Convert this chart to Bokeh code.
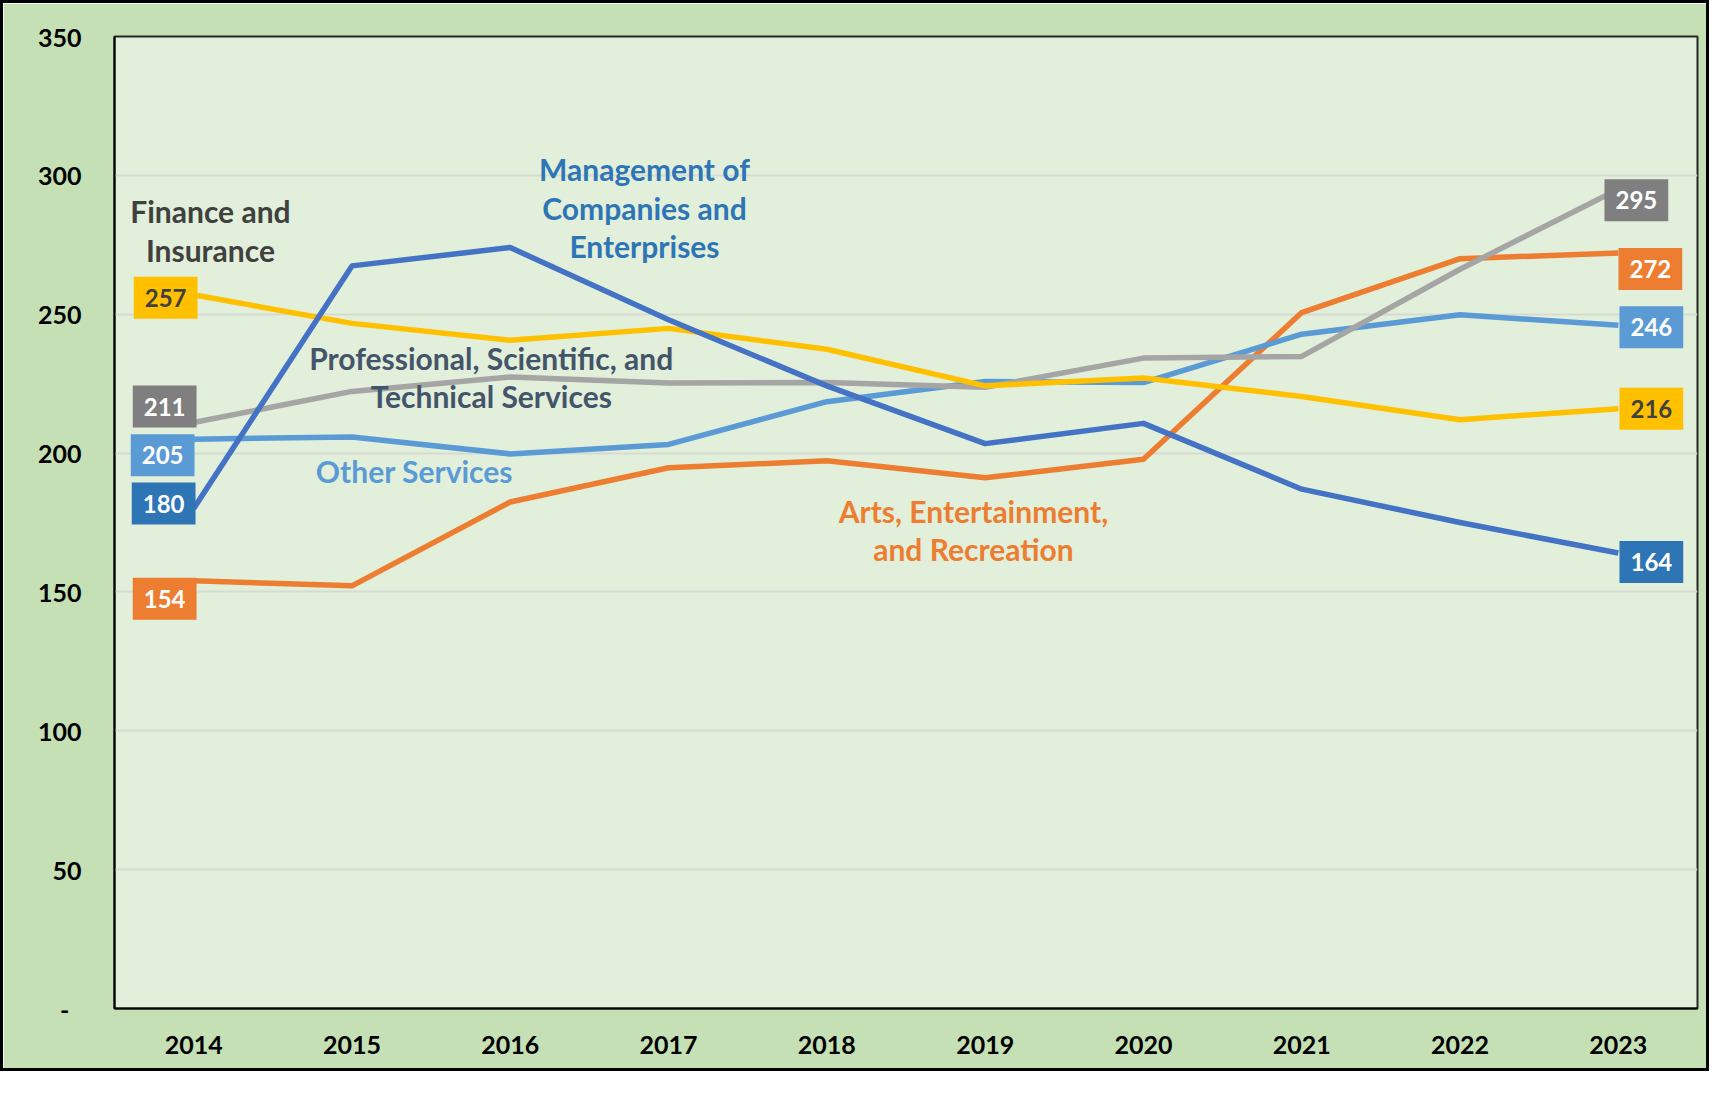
from bokeh.plotting import figure
from bokeh.models import FactorRange, Range1d, FixedTicker, Label
from bokeh.embed import file_html
from bokeh.resources import INLINE

years = ["2014", "2015", "2016", "2017", "2018", "2019", "2020", "2021", "2022", "2023"]
arts = [154, 152.2, 182.4, 194.7, 197.2, 191.1, 197.8, 250.6, 270.0, 272]
finance = [257, 246.7, 240.6, 244.9, 237.4, 224.2, 227.0, 220.4, 212.0, 216]
management = [180, 267.4, 274.0, 248.0, 224.2, 203.4, 210.7, 187.0, 175.0, 164]
other = [205, 205.8, 199.7, 203.1, 218.5, 225.8, 225.4, 242.8, 249.8, 246]
professional = [211, 222.2, 227.4, 225.2, 225.4, 223.7, 234.2, 234.8, 266.2, 295]
y_ticks = [0, 50, 100, 150, 200, 250, 300, 350]

FONT = "Lato"

p = figure(x_range=FactorRange(*years), y_range=Range1d(0, 350),
           width=1709, height=1071, output_backend="svg", toolbar_location=None,
           min_border_left=111, min_border_right=15, min_border_top=33, min_border_bottom=66,
           background_fill_color="#E2EFDA", border_fill_color="#C5E0B4")
p.title = None
p.styles = {"border": "3px solid black"}
p.outline_line_color = "#262626"
p.outline_line_width = 2

p.xgrid.grid_line_color = None
p.ygrid.grid_line_color = "#D6DBD2"
p.ygrid.grid_line_width = 2

p.yaxis.ticker = FixedTicker(ticks=y_ticks)
p.yaxis.major_label_overrides = {0: "-\u00a0\u00a0"}
for ax in (p.xaxis[0], p.yaxis[0]):
    ax.axis_line_color = "black"
    ax.axis_line_width = 2
    ax.major_tick_line_color = None
    ax.minor_tick_line_color = None
    ax.major_tick_out = 0
    ax.major_tick_in = 0
    ax.minor_tick_out = 0
    ax.major_label_text_font = FONT
    ax.major_label_text_font_style = "bold"
    ax.major_label_text_font_size = "25px"
    ax.major_label_text_color = "black"
p.yaxis.major_label_standoff = 33
p.xaxis.major_label_standoff = 27

series = [
    ("arts", arts, "#ED7D31"),
    ("other", other, "#5B9BD5"),
    ("professional", professional, "#A5A5A5"),
    ("finance", finance, "#FFC000"),
    ("management", management, "#4472C4"),
]
for name, vals, col in series:
    p.line(years, vals, line_color=col, line_width=5.5, line_join="round")

# value labels at start (2014) and end (2023)
box_style = {
    "arts": ("#ED7D31", "white"),
    "other": ("#5B9BD5", "white"),
    "professional": ("#7F7F7F", "white"),
    "finance": ("#FFC000", "#404040"),
    "management": ("#2E75B6", "white"),
}
start_offsets = {"finance": (-28, -3), "professional": (-29, 16), "other": (-31, -16),
                 "management": (-30, 5), "arts": (-29, -18)}
end_offsets = {"professional": (18, -11), "arts": (32, -16), "other": (33, -2),
               "finance": (33, 0), "management": (33, -9)}

for name, vals, col in series:
    bg, fg = box_style[name]
    for idx, offs in ((0, start_offsets[name]), (len(years) - 1, end_offsets[name])):
        p.add_layout(Label(x=idx + 0.5, y=vals[idx], text=f"{round(vals[idx])}",
                           x_offset=offs[0], y_offset=offs[1],
                           text_align="center", text_baseline="middle",
                           text_font=FONT, text_font_style="bold", text_font_size="24px",
                           text_color=fg, background_fill_color=bg, padding=(11, 12)))

# series name annotations
annots = [
    (["Finance and", "Insurance"], 0.606, [287.0, 273.0], "#404040"),
    (["Professional, Scientific, and", "Technical Services"], 2.38, [234.4, 220.7], "#44546A"),
    (["Management of", "Companies and", "Enterprises"], 3.348, [302.4, 288.4, 274.4], "#2E75B6"),
    (["Other Services"], 1.895, [193.4], "#5B9BD5"),
    (["Arts, Entertainment,", "and Recreation"], 5.426, [179.3, 165.4], "#ED7D31"),
]
for lines, xx, ys, col in annots:
    for t, yy in zip(lines, ys):
        p.add_layout(Label(x=xx, y=yy, text=t, text_align="center", text_baseline="middle",
                           text_font=FONT, text_font_style="bold", text_font_size="30px",
                           text_color=col))

open("out.html", "w").write(file_html(p, INLINE))
